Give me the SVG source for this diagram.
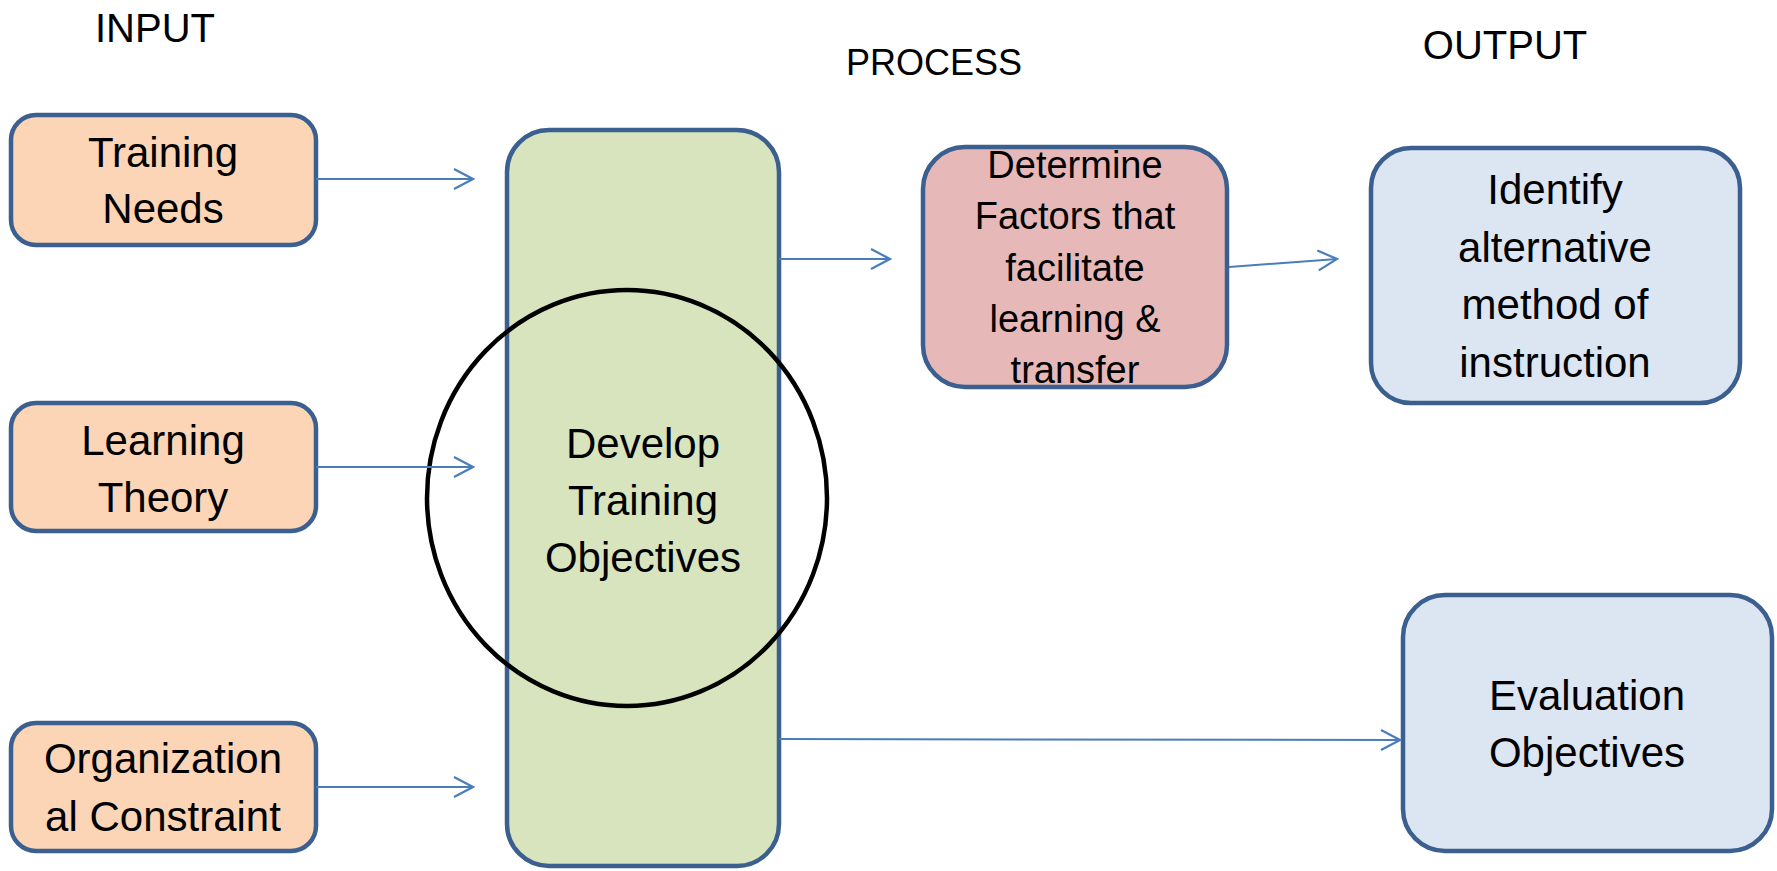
<svg xmlns="http://www.w3.org/2000/svg" width="1777" height="871" viewBox="0 0 1777 871">
<style>
text{font-family:"Liberation Sans",Arial,sans-serif;fill:#000;text-anchor:middle}
.hdr{font-size:40px}
.t{font-size:42px}
.s{font-size:38px}
.box{stroke:#3B6090;stroke-width:4.5}
.in{fill:#FBD5B5}
.proc{fill:#D7E4BD}
.pink{fill:#E6B9B8}
.out{fill:#DCE6F2}
.conn{stroke:#4A7EBB;stroke-width:2;fill:none;marker-end:url(#ah)}
</style>
<defs>
<marker id="ah" viewBox="-22 -12 24 24" refX="0" refY="0" markerWidth="24" markerHeight="24" markerUnits="userSpaceOnUse" orient="auto">
<path d="M-19,-10 L0,0 L-19,10" fill="none" stroke="#4A7EBB" stroke-width="2.2"/>
</marker>
</defs>
<rect width="1777" height="871" fill="#fff"/>
<g id="headers">
<text class="hdr" x="155" y="42">INPUT</text>
<text class="hdr" x="934" y="75" style="font-size:36px">PROCESS</text>
<text class="hdr" x="1505" y="59">OUTPUT</text>
</g>
<g id="develop">
<rect class="box proc" x="507" y="130" width="272" height="736" rx="42"/>
</g>
<g id="circle">
<ellipse cx="627" cy="498" rx="200" ry="208" fill="none" stroke="#000" stroke-width="4.5"/>
</g>
<g id="develop-label">
<text class="t" x="643" y="458">Develop</text>
<text class="t" x="643" y="515">Training</text>
<text class="t" x="643" y="572">Objectives</text>
</g>
<g id="training-needs">
<rect class="box in" x="11" y="115" width="305" height="130" rx="25"/>
<text class="t" x="163" y="167">Training</text>
<text class="t" x="163" y="223">Needs</text>
</g>
<g id="learning-theory">
<rect class="box in" x="11" y="403" width="305" height="128" rx="25"/>
<text class="t" x="163" y="455">Learning</text>
<text class="t" x="163" y="512">Theory</text>
</g>
<g id="org-constraint">
<rect class="box in" x="11" y="723" width="305" height="128" rx="25"/>
<text class="t" x="163" y="773">Organization</text>
<text class="t" x="163" y="831">al Constraint</text>
</g>
<g id="determine">
<rect class="box pink" x="923" y="147" width="304" height="240" rx="42"/>
<text class="s" x="1075" y="178">Determine</text>
<text class="s" x="1075" y="229">Factors that</text>
<text class="s" x="1075" y="281">facilitate</text>
<text class="s" x="1075" y="332">learning &amp;</text>
<text class="s" x="1075" y="383">transfer</text>
</g>
<g id="identify">
<rect class="box out" x="1371" y="148" width="369" height="255" rx="40"/>
<text class="t" x="1555" y="204">Identify</text>
<text class="t" x="1555" y="262">alternative</text>
<text class="t" x="1555" y="319">method of</text>
<text class="t" x="1555" y="377">instruction</text>
</g>
<g id="evaluation">
<rect class="box out" x="1403" y="595" width="369" height="256" rx="42"/>
<text class="t" x="1587" y="710">Evaluation</text>
<text class="t" x="1587" y="767">Objectives</text>
</g>
<g id="connectors">
<line class="conn" x1="316" y1="179" x2="473" y2="179"/>
<line class="conn" x1="316" y1="467" x2="473" y2="467"/>
<line class="conn" x1="316" y1="787" x2="473" y2="787"/>
<line class="conn" x1="779" y1="259" x2="890" y2="259"/>
<line class="conn" x1="1229" y1="267" x2="1337" y2="259"/>
<line class="conn" x1="779" y1="739" x2="1400" y2="740"/>
</g>
</svg>
